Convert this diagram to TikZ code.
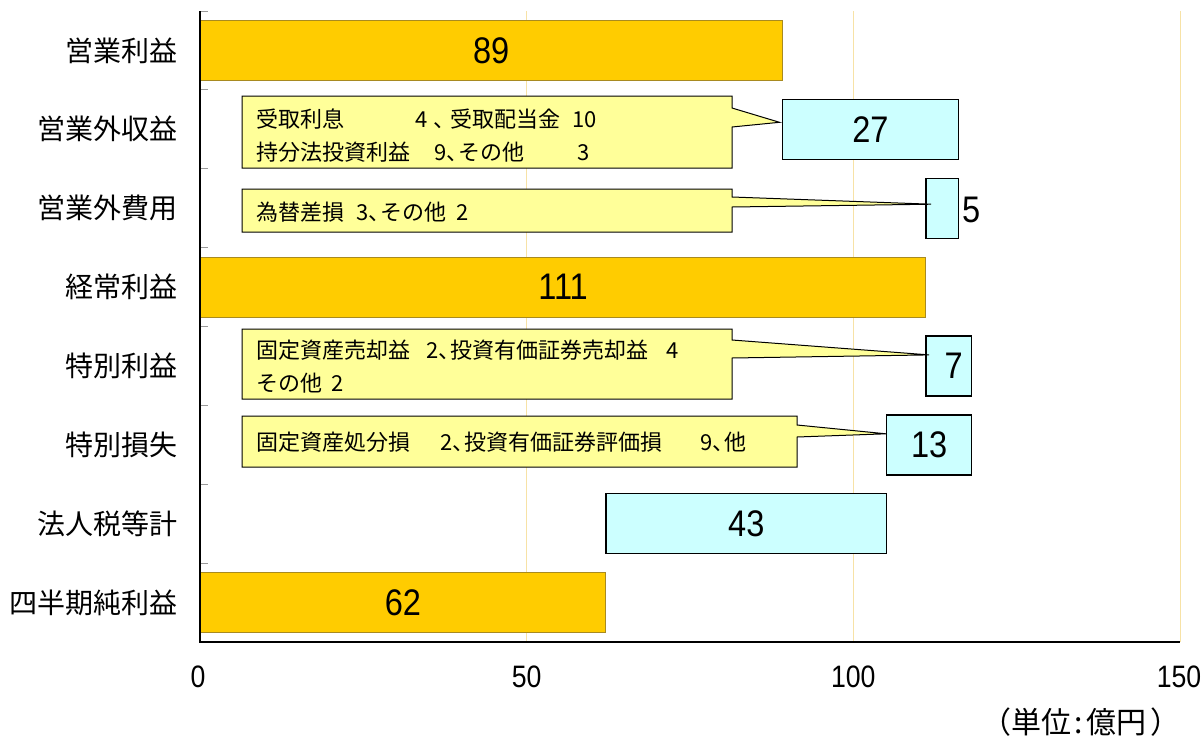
\documentclass[tikz,border=0pt]{standalone}
\usepackage{fontspec}
\setmainfont{Noto Sans CJK JP}
\newfontfamily\numfont{Liberation Sans}
\usetikzlibrary{calc}
\definecolor{barorange}{HTML}{FFCC00}
\definecolor{baredge}{HTML}{A88A20}
\definecolor{boxcyan}{HTML}{CCFFFF}
\definecolor{callyellow}{HTML}{FFFF99}
\definecolor{gridc}{HTML}{F7E2A6}
\definecolor{tickc}{HTML}{999999}
\newcommand\barnum[1]{\scalebox{0.88}[1]{#1}}
\newcommand\axn[1]{\scalebox{0.86}[1]{#1}}
\newcommand\hc{\makebox[12pt][l]{、}}
\tikzset{
  obar/.style={rectangle, fill=barorange, draw=baredge, line width=0.9pt, inner sep=0pt, minimum height=60pt, anchor=west, font=\numfont\fontsize{37}{40}\selectfont},
  cbox/.style={rectangle, fill=boxcyan, draw=black, line width=1.4pt, inner sep=0pt, minimum height=60pt, anchor=west, font=\numfont\fontsize{37}{40}\selectfont},
  callout/.style={fill=callyellow, draw=black, line width=1pt, line join=miter},
  ctext/.style={anchor=west, inner sep=0pt, font=\fontsize{22}{26}\selectfont},
  cat/.style={anchor=east, inner sep=0pt, font=\fontsize{28}{32}\selectfont},
  axnum/.style={anchor=center, inner sep=0pt, font=\numfont\fontsize{31}{34}\selectfont},
  gridline/.style={draw=gridc, line width=0.9pt},
  tickline/.style={draw=tickc, line width=0.9pt}
}
\begin{document}
\begin{tikzpicture}[x=1pt,y=-1pt]
\useasboundingbox (0,0) rectangle (1203,742);
\fill[white] (0,0) rectangle (1203,742);
% grid
\draw[gridline] (526.7,11) -- (526.7,642);
\draw[gridline] (853.3,11) -- (853.3,642);
\draw[gridline] (1180,11) -- (1180,642);
% ticks
\foreach \yy in {11,89.875,168.75,247.625,326.5,405.375,484.25,563.125}
  \draw[tickline] (200,\yy) -- (208,\yy);
% category labels
\node[cat] (l0) at (178,50.4) {営業利益};
\node[cat] (l1) at (178,129.3) {営業外収益};
\node[cat] (l2) at (178,208.2) {営業外費用};
\node[cat] (l3) at (178,287.1) {経常利益};
\node[cat] (l4) at (178,365.9) {特別利益};
\node[cat] (l5) at (178,444.8) {特別損失};
\node[cat] (l6) at (178,523.7) {法人税等計};
\node[cat] (l7) at (178,602.6) {四半期純利益};
% bars
\node[obar, minimum width=581.5pt] (op) at (200,50.4) {\barnum{89}};
\node[cbox, minimum width=176.4pt] (ni) at (781.5,129.3) {\barnum{27}};
\node[cbox, minimum width=32.7pt] (ne) at (925.2,208.2) {};
\node[anchor=west, inner sep=0pt, font=\numfont\fontsize{37}{40}\selectfont] (nel) at (962,210) {\barnum{5}};
\node[obar, minimum width=725.2pt] (ord) at (200,287.1) {\barnum{111}};
\node[cbox, minimum width=45.7pt] (ei) at (925.2,365.9) {\hspace*{10pt}\barnum{7}};
\node[cbox, minimum width=84.9pt] (el) at (886,444.8) {\barnum{13}};
\node[cbox, minimum width=280.9pt] (tx) at (605.1,523.7) {\barnum{43}};
\node[obar, minimum width=405.1pt] (net) at (200,602.6) {\barnum{62}};
% callouts
\draw[callout] (242,96) -- (732,96) -- (732,108) -- ($(ni.west)+(-2,-7)$) -- (732,127) -- (732,168) -- (242,168) -- cycle;
\node[ctext] (c1a) at (256,119) {受取利息\hspace{71pt}4\hspace{6pt}\hc\hspace{5pt}受取配当金\hspace{12pt}10};
\node[ctext] (c1b) at (256,152) {持分法投資利益\hspace{24pt}9\hc その他\hspace{53pt}3};
\draw[callout] (242,189) -- (732,189) -- (732,197) -- ($(ne.west)+(6,-4)$) -- (732,207) -- (732,232) -- (242,232) -- cycle;
\node[ctext] (c2) at (256,212) {為替差損\hspace{12pt}3\hc その他\hspace{10pt}2};
\draw[callout] (242,329) -- (732,329) -- (732,340) -- ($(ei.west)+(4,-11)$) -- (732,358) -- (732,399) -- (242,399) -- cycle;
\node[ctext] (c3a) at (256,350) {固定資産売却益\hspace{16pt}2\hc 投資有価証券売却益\hspace{18pt}4};
\node[ctext] (c3b) at (256,383) {その他\hspace{9pt}2};
\draw[callout] (242,416) -- (797,416) -- (797,425) -- ($(el.west)+(0,-11)$) -- (797,437) -- (797,467) -- (242,467) -- cycle;
\node[ctext] (c4) at (256,442) {固定資産処分損\hspace{30pt}2\hc 投資有価証券評価損\hspace{38pt}9\hc 他};
% axes
\draw[black, line width=1.2pt] (200,11) -- (200,642) -- (1180,642);
% axis numbers
\node[axnum] (x0) at (198,677) {\axn{0}};
\node[axnum] (x50) at (526.7,677) {\axn{50}};
\node[axnum] (x100) at (853.3,677) {\axn{100}};
\node[axnum] (x150) at (1179,677) {\axn{150}};
\node[anchor=center, inner sep=0pt, font=\fontsize{30}{33}\selectfont] (unit) at (1081,722) {（単位\hspace{3pt}:\hspace{3pt}億円\hspace{4pt}）};
\end{tikzpicture}
\end{document}
